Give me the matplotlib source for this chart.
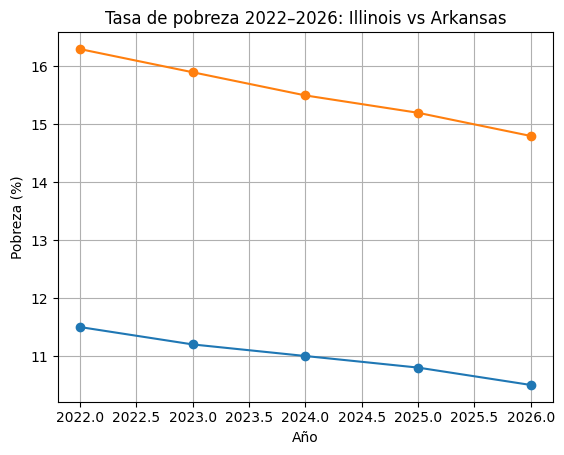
import matplotlib
matplotlib.use("Agg")
import matplotlib.pyplot as plt

years = [2022, 2023, 2024, 2025, 2026]
illinois = [11.5, 11.2, 11.0, 10.8, 10.5]
arkansas = [16.3, 15.9, 15.5, 15.2, 14.8]

fig, ax = plt.subplots(figsize=(5.64, 4.55), dpi=100)
fig.subplots_adjust(left=0.102, right=0.981, top=0.929, bottom=0.117)

ax.plot(years, illinois, marker='o', label='Illinois')
ax.plot(years, arkansas, marker='o', label='Arkansas')
ax.set_title('Tasa de pobreza 2022–2026: Illinois vs Arkansas')
ax.set_xlabel('Año')
ax.set_ylabel('Pobreza (%)')
ax.grid(True)

fig.savefig('out.png')
